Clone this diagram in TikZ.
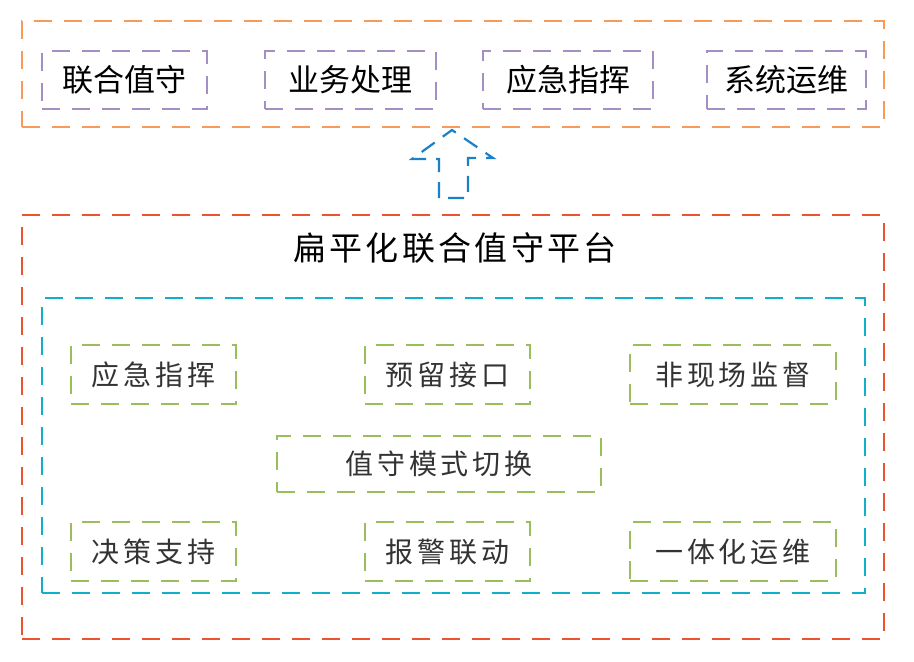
\documentclass[tikz,border=0pt]{standalone}
\usepackage{fontspec}
\setmainfont{Noto Sans CJK SC}
\newfontfamily\innerfont[LetterSpace=14]{Noto Sans CJK SC}
\definecolor{corange}{HTML}{F79A5A}
\definecolor{cpurple}{HTML}{A38FC4}
\definecolor{cred}{HTML}{EE5330}
\definecolor{ccyan}{HTML}{12AFCB}
\definecolor{cgreen}{HTML}{9BBE5C}
\definecolor{cblue}{HTML}{1B80C6}
\definecolor{ctext}{HTML}{333333}
\begin{document}
\begin{tikzpicture}[x=1pt,y=-1pt,
  dbox/.style={draw, line width=2.2pt, dash pattern=on 18pt off 12pt, inner sep=0pt, rectangle},
  topbox/.style={dbox, draw=cpurple, minimum height=58pt, font=\fontsize{31}{31}\selectfont, text=black},
  greenbox/.style={dbox, draw=cgreen, minimum height=59pt, font=\innerfont\fontsize{28}{28}\selectfont, text=ctext},
  container/.style={dbox}]
\useasboundingbox (0,0) rectangle (914,662);
% containers
\node[container, draw=corange, minimum width=862pt, minimum height=106pt] (top) at (453,74) {};
\node[container, draw=cred, minimum width=862pt, minimum height=424pt] (platform) at (453,427) {};
\node[container, draw=ccyan, minimum width=823pt, minimum height=295pt] (core) at (453.5,445.5) {};
% top row
\node[topbox, minimum width=165pt] (u1) at (124.5,80) {联合值守};
\node[topbox, minimum width=171pt] (u2) at (350.5,80) {业务处理};
\node[topbox, minimum width=170pt] (u3) at (568,80) {应急指挥};
\node[topbox, minimum width=159pt] (u4) at (786.5,80) {系统运维};
% title
\node[font=\fontsize{33}{33}\selectfont\addfontfeature{LetterSpace=10}, text=black] (title) at (455,248) {扁平化联合值守平台};
% inner boxes
\node[greenbox, minimum width=165pt] (g1) at (153.5,374.5) {应急指挥};
\node[greenbox, minimum width=165pt] (g2) at (447.5,374.5) {预留接口};
\node[greenbox, minimum width=206pt] (g3) at (733,374.5) {非现场监督};
\node[greenbox, minimum width=324pt, minimum height=56pt] (g4) at (439,464) {值守模式切换};
\node[greenbox, minimum width=165pt] (g5) at (153.5,551.5) {决策支持};
\node[greenbox, minimum width=165pt] (g6) at (447.5,551.5) {报警联动};
\node[greenbox, minimum width=206pt] (g7) at (733,551.5) {一体化运维};
% block arrow from platform up to top
\coordinate (atip) at (452,130);
\draw[cblue, line width=2.2pt, dash pattern=on 16pt off 10pt, line join=miter]
  (439,198) -- (439,159) -- (412,159) -- (atip) -- (493,158) -- (468,158) -- (468,198) -- cycle;
\end{tikzpicture}
\end{document}
